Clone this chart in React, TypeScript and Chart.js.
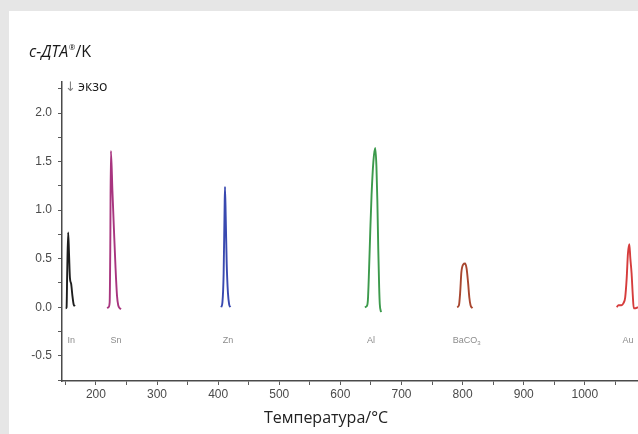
import { useEffect, useRef } from "react";
import { Chart, registerables } from "chart.js";

Chart.register(...registerables);

// DTA melting peaks of the calibration substances (temperature in °C, signal in K)
const inTemps = [150.5, 152, 153, 154.6, 156, 157.5, 159.5, 161.5, 163.5, 165.5];
const inValues = [-0.01, 0.0, 0.35, 0.77, 0.55, 0.3, 0.24, 0.12, 0.03, 0.01];

const snTemps = [218.5, 220.5, 222.5, 223.5, 224.5, 227, 229.5, 232, 234.5, 236.5, 239, 241];
const snValues = [-0.01, 0.0, 0.05, 0.6, 1.61, 1.2, 0.8, 0.42, 0.12, 0.02, -0.01, -0.02];

const znTemps = [405, 407, 409, 410.5, 411.2, 412.5, 414, 416, 418, 420];
const znValues = [0.0, 0.05, 0.35, 1.0, 1.24, 0.9, 0.45, 0.15, 0.03, 0.0];

const alTemps = [640, 643, 645, 647, 649, 651, 654, 657, 659, 660.5, 662, 663.5, 664.5, 666.5];
const alValues = [0.0, 0.01, 0.07, 0.4, 0.8, 1.15, 1.5, 1.64, 1.45, 1.1, 0.6, 0.2, 0.03, -0.05];

const baco3Temps = [791, 794, 796, 798, 801, 804, 806.5, 809, 811, 813, 816];
const baco3Values = [0.0, 0.02, 0.15, 0.36, 0.44, 0.45, 0.4, 0.25, 0.1, 0.02, -0.01];

const auTemps = [1052, 1055, 1060, 1063, 1066, 1068.5, 1070.5, 1072.8, 1074.5, 1076.5, 1078.5, 1080, 1083, 1087];
const auValues = [0.0, 0.02, 0.02, 0.04, 0.1, 0.3, 0.55, 0.65, 0.5, 0.35, 0.12, -0.01, -0.01, 0.0];

const seriesTemps = [inTemps, snTemps, znTemps, alTemps, baco3Temps, auTemps];
const seriesValues = [inValues, snValues, znValues, alValues, baco3Values, auValues];
const seriesColors = ["#1e1e1e", "#a8357f", "#3949b0", "#3c9a4c", "#a8462f", "#d63c3c"];

// substance names written under each peak
const peakNames = ["In", "Sn", "Zn", "Al", "BaCO", "Au"];
const peakSubscripts = ["", "", "", "", "3", ""];
const peakLabelTemps = [159.6, 232.7, 416, 650, 806.5, 1070.7];
const peakLabelLevel = -0.34;

const xMin = 144.5;
const xMax = 1087;
const yMin = -0.76;
const yMax = 2.32;

const textPlugin = {
  id: "dtaText",
  afterDraw(chart: any) {
    const ctx = chart.ctx as CanvasRenderingContext2D;
    const xs = chart.scales.x;
    const ys = chart.scales.y;
    ctx.save();

    // y-axis heading: c-ДТА®/K
    ctx.fillStyle = "#1a1a1a";
    ctx.textBaseline = "alphabetic";
    ctx.textAlign = "left";
    let x = 20;
    ctx.font = 'italic 16px "Open Sans"';
    ctx.fillText("c-ДТА", x, 46);
    x += ctx.measureText("c-ДТА").width + 0.5;
    ctx.font = '8px "Open Sans"';
    ctx.fillText("®", x, 39);
    x += ctx.measureText("®").width;
    ctx.font = '16px "Open Sans"';
    ctx.fillText("/K", x, 46);

    // exothermic direction marker
    ctx.fillStyle = "#808080";
    ctx.font = '13px "DejaVu Sans"';
    ctx.fillText("↓", 56, 80);
    ctx.fillStyle = "#1a1a1a";
    ctx.font = '14px "Open Sans"';
    ctx.fillText("экзо", 69, 80);

    // x-axis title
    ctx.fillStyle = "#222222";
    ctx.textAlign = "center";
    ctx.font = '16px "Open Sans"';
    ctx.fillText("Температура/°C", 317, 412);

    // peak names
    ctx.fillStyle = "#8c8c8c";
    ctx.textBaseline = "middle";
    for (let i = 0; i < peakNames.length; i++) {
      const px = xs.getPixelForValue(peakLabelTemps[i]);
      const py = ys.getPixelForValue(peakLabelLevel);
      ctx.font = '9px "Liberation Sans"';
      const main = peakNames[i];
      const sub = peakSubscripts[i];
      const wMain = ctx.measureText(main).width;
      ctx.font = '6px "Liberation Sans"';
      const wSub = sub ? ctx.measureText(sub).width : 0;
      const left = px - (wMain + wSub) / 2;
      ctx.textAlign = "left";
      ctx.font = '9px "Liberation Sans"';
      ctx.fillText(main, left, py);
      if (sub) {
        ctx.font = '6px "Liberation Sans"';
        ctx.fillText(sub, left + wMain, py + 3);
      }
    }
    ctx.restore();
  },
};

export default function App() {
  const canvasRef = useRef<HTMLCanvasElement | null>(null);

  useEffect(() => {
    const canvas = canvasRef.current;
    if (!canvas) return;

    const datasets = seriesTemps.map((temps, i) => ({
      data: temps.map((t, j) => ({ x: t, y: seriesValues[i][j] })),
      borderColor: seriesColors[i],
      borderWidth: 1.9,
      pointRadius: 0,
      fill: false,
      cubicInterpolationMode: "monotone" as const,
    }));

    const chart = new Chart(canvas, {
      type: "line",
      data: { datasets },
      plugins: [textPlugin],
      options: {
        responsive: false,
        animation: false,
        devicePixelRatio: 1,
        layout: { padding: { top: 71, right: 0, bottom: 0, left: 0 } },
        plugins: {
          legend: { display: false },
          tooltip: { enabled: false },
          title: { display: false },
        },
        scales: {
          x: {
            type: "linear",
            min: xMin,
            max: xMax,
            afterFit(scale: any) {
              scale.height = 53;
            },
            border: { display: true, color: "#4a4a4a", width: 1.5 },
            grid: {
              drawOnChartArea: false,
              drawTicks: true,
              tickLength: 4,
              color: "#5a5a5a",
            },
            ticks: {
              stepSize: 50,
              includeBounds: false,
              autoSkip: false,
              maxRotation: 0,
              padding: 2,
              color: "#4a4a4a",
              font: { family: "Liberation Sans", size: 12 },
              callback: (v: any) => (Math.round(v) % 100 === 0 ? String(Math.round(v)) : ""),
            },
          },
          y: {
            type: "linear",
            min: yMin,
            max: yMax,
            afterFit(scale: any) {
              scale.width = 53;
            },
            border: { display: true, color: "#4a4a4a", width: 1.5 },
            grid: {
              drawOnChartArea: false,
              drawTicks: true,
              tickLength: 4,
              color: "#5a5a5a",
            },
            ticks: {
              stepSize: 0.25,
              includeBounds: false,
              autoSkip: false,
              padding: 6,
              color: "#4a4a4a",
              font: { family: "Liberation Sans", size: 12 },
              callback: (v: any) => {
                const r = Math.round(Number(v) * 100) / 100;
                return Math.abs(r * 2 - Math.round(r * 2)) < 1e-6 ? r.toFixed(1) : "";
              },
            },
          },
        },
      },
    });

    return () => chart.destroy();
  }, []);

  return (
    <div style={{ position: "fixed", inset: 0, background: "#e6e6e6", overflow: "hidden" }}>
      <div
        style={{
          position: "absolute",
          left: 9,
          top: 11,
          width: 629,
          height: 423,
          background: "#ffffff",
        }}
      >
        <canvas ref={canvasRef} width={629} height={423} style={{ display: "block" }} />
      </div>
    </div>
  );
}
